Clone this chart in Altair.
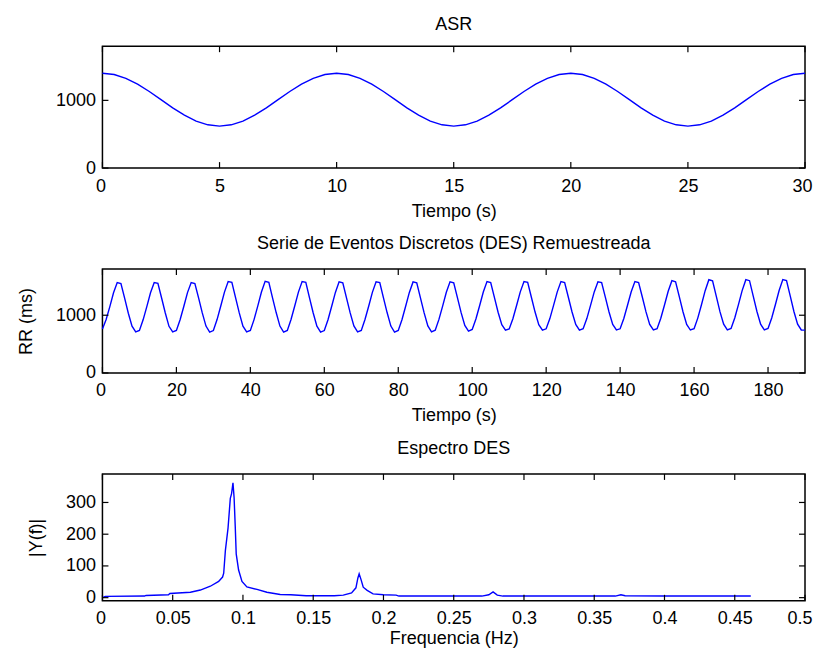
import altair as alt
import pandas as pd

FONT = "Liberation Sans"
FS = 18
BLUE = "#0000FF"
TL = 6  # inner tick length

# ---------------- Panel 1: ASR ----------------
asr_t = [0.5 * i for i in range(61)]
asr_v = [1400, 1381, 1326, 1239, 1131, 1010, 889, 781, 694, 639,
         620, 639, 694, 781, 889, 1010, 1131, 1239, 1326, 1381,
         1400, 1381, 1326, 1239, 1131, 1010, 889, 781, 694, 639,
         620, 639, 694, 781, 889, 1010, 1131, 1239, 1326, 1381,
         1400, 1381, 1326, 1239, 1131, 1010, 889, 781, 694, 639,
         620, 639, 694, 781, 889, 1010, 1131, 1239, 1326, 1381,
         1400]

# ---------------- Panel 2: DES resampled ----------------
des_t = list(range(191))
des_v = [760, 925, 1150, 1390, 1565, 1550, 1295, 1035, 810, 712,
         738, 920, 1150, 1390, 1566, 1552, 1298, 1038, 808, 710,
         736, 922, 1152, 1392, 1565, 1550, 1300, 1040, 812, 708,
         735, 925, 1160, 1400, 1585, 1570, 1305, 1040, 810, 710,
         738, 924, 1158, 1402, 1586, 1568, 1302, 1042, 812, 708,
         736, 926, 1160, 1400, 1584, 1570, 1300, 1038, 810, 706,
         734, 922, 1155, 1395, 1578, 1562, 1300, 1040, 814, 710,
         738, 925, 1156, 1396, 1580, 1564, 1302, 1042, 812, 708,
         736, 923, 1155, 1395, 1577, 1560, 1300, 1040, 815, 712,
         740, 928, 1158, 1398, 1580, 1563, 1305, 1045, 822, 725,
         755, 935, 1165, 1402, 1582, 1566, 1310, 1052, 835, 740,
         762, 940, 1168, 1405, 1583, 1568, 1312, 1055, 838, 742,
         765, 942, 1170, 1405, 1582, 1566, 1312, 1056, 840, 743,
         766, 942, 1170, 1404, 1580, 1565, 1313, 1056, 840, 744,
         765, 944, 1172, 1406, 1582, 1566, 1315, 1058, 842, 745,
         768, 948, 1178, 1415, 1598, 1580, 1322, 1060, 842, 744,
         768, 950, 1182, 1425, 1615, 1596, 1330, 1062, 845, 746,
         770, 952, 1184, 1426, 1616, 1598, 1332, 1064, 845, 745,
         770, 952, 1185, 1428, 1618, 1600, 1335, 1065, 846, 745,
         742]

# ---------------- Panel 3: spectrum ----------------
spec_f = [0.000, 0.002, 0.030, 0.031, 0.047, 0.048, 0.0626, 0.0697, 0.0768,
          0.0827, 0.0855, 0.0863, 0.0875, 0.0894, 0.0910, 0.0919, 0.0929,
          0.0937, 0.0945, 0.0952, 0.0969, 0.0993, 0.1028, 0.110, 0.117,
          0.1265, 0.134, 0.145, 0.165, 0.1714, 0.1773, 0.1804, 0.1818,
          0.1827, 0.1841, 0.1856, 0.1884, 0.1926, 0.200, 0.209, 0.211,
          0.270, 0.275, 0.278, 0.281, 0.285, 0.365, 0.369, 0.372, 0.400,
          0.4614]
spec_v = [0, 4, 5, 7, 9, 13, 17, 24, 36,
          51, 65, 77, 149, 220, 313, 328, 362,
          315, 226, 138, 87, 51, 34, 26, 17,
          10, 9, 6, 6, 8, 15, 31, 62,
          75, 56, 33, 23, 12, 9, 8, 5,
          5, 9, 18, 8, 5, 5, 9, 6, 5,
          5]

x1_ticks = [0, 5, 10, 15, 20, 25, 30]
y1_ticks = [0, 1000]
x2_ticks = [0, 20, 40, 60, 80, 100, 120, 140, 160, 180]
y2_ticks = [0, 1000]
x3_ticks = [0, 0.05, 0.1, 0.15, 0.2, 0.25, 0.3, 0.35, 0.4, 0.45, 0.5]
y3_ticks = [0, 100, 200, 300]

W = 703
LABEL = "'' + datum.value"


def panel(xs_vals, ys_vals, xdom, ydom, xt, yt, H, title, xtitle, ytitle,
          xtp, ytp, toff):
    df = pd.DataFrame({"x": xs_vals, "y": ys_vals})
    xs = alt.Scale(domain=xdom, nice=False, zero=False)
    ys = alt.Scale(domain=ydom, nice=False, zero=False)
    yaxis_kw = dict(values=yt, labelExpr=LABEL, ticks=False, tickSize=0,
                    domain=False, grid=False, labelPadding=7,
                    labelOverlap=False)
    if ytitle:
        yaxis_kw["title"] = ytitle
        yaxis_kw["titlePadding"] = ytp
    else:
        yaxis_kw["title"] = None
    xaxis = alt.Axis(values=xt, labelExpr=LABEL, title=xtitle,
                     ticks=False, tickSize=0, domain=False,
                     grid=False, labelPadding=9, titlePadding=xtp,
                     labelOverlap=False, labelFlush=True,
                     labelFlushOffset=7)
    yaxis = alt.Axis(**yaxis_kw)
    line = alt.Chart(df).mark_line(color=BLUE, strokeWidth=1.4).encode(
        x=alt.X("x:Q", scale=xs, axis=xaxis),
        y=alt.Y("y:Q", scale=ys, axis=yaxis),
    )
    xt_df = pd.DataFrame({"v": xt})
    yt_df = pd.DataFrame({"v": yt})
    rule = dict(color="black", strokeWidth=1.2)
    bx = alt.Chart(xt_df).mark_rule(**rule).encode(
        x=alt.X("v:Q", scale=xs, axis=xaxis),
        y=alt.value(H), y2=alt.value(H - TL))
    tx = alt.Chart(xt_df).mark_rule(**rule).encode(
        x=alt.X("v:Q", scale=xs, axis=xaxis),
        y=alt.value(0), y2=alt.value(TL))
    ly = alt.Chart(yt_df).mark_rule(**rule).encode(
        y=alt.Y("v:Q", scale=ys, axis=yaxis),
        x=alt.value(0), x2=alt.value(TL))
    ry = alt.Chart(yt_df).mark_rule(**rule).encode(
        y=alt.Y("v:Q", scale=ys, axis=yaxis),
        x=alt.value(W), x2=alt.value(W - TL))
    return alt.layer(line, bx, tx, ly, ry).properties(
        width=W, height=H,
        title=alt.TitleParams(title, font=FONT, fontSize=FS,
                              fontWeight="normal", color="black", offset=toff,
                              anchor="middle"))


p1 = panel(asr_t, asr_v, [0, 30], [0, 1800], x1_ticks, y1_ticks, 122,
           "ASR", "Tiempo (s)", None, 7, 20, 12)
p2 = panel(des_t, des_v, [0, 190], [0, 1800], x2_ticks, y2_ticks, 104,
           "Serie de Eventos Discretos (DES) Remuestreada", "Tiempo (s)",
           "RR (ms)", 7, 20, 15)
p3 = panel(spec_f, spec_v, [0, 0.5], [-10, 390], x3_ticks, y3_ticks, 127,
           "Espectro DES", "Frequencia (Hz)", "|Y(f)|", 2, 20, 15)

chart = alt.vconcat(p1, p2, p3, spacing=13).properties(
    padding={"left": 8.5, "top": 6, "right": 0, "bottom": 0}
).configure_view(
    stroke="black", strokeWidth=1.5
).configure_axis(
    labelFont=FONT, labelFontSize=FS, labelColor="black",
    titleFont=FONT, titleFontSize=FS, titleColor="black",
    titleFontWeight="normal"
)

chart.save("out.html", embed_options={"renderer": "svg", "actions": False})
